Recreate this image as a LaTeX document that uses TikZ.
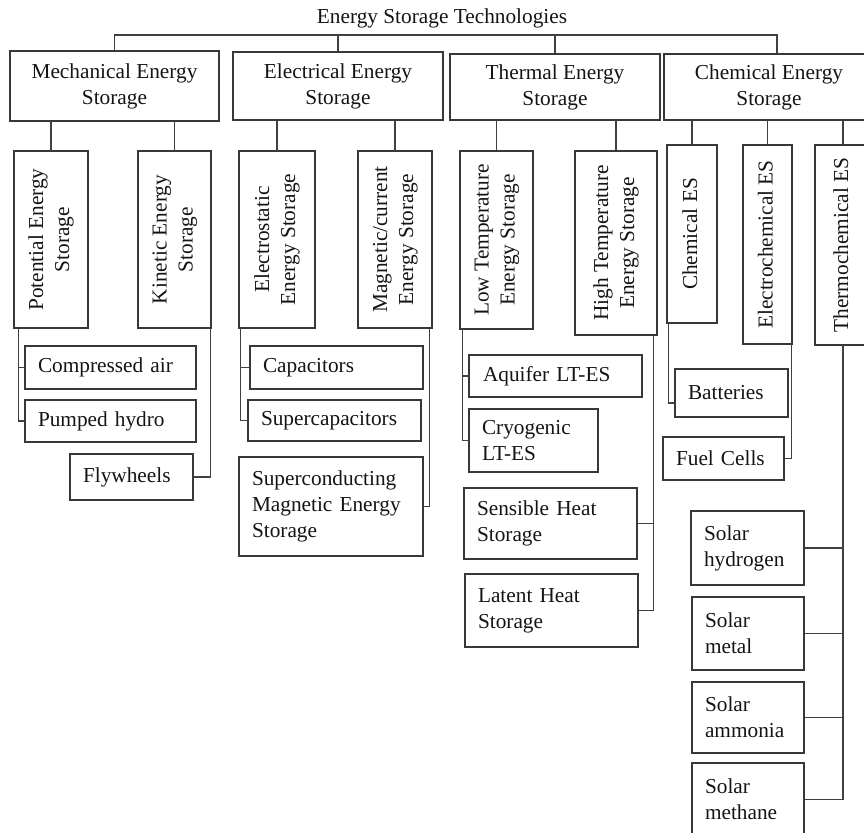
\documentclass[tikz,border=0pt]{standalone}
\usepackage{fontspec}
\setmainfont{Liberation Serif}
\usepackage{graphicx}
\usetikzlibrary{positioning,calc}
\newcommand{\fel}[1]{\rotatebox{90}{\begin{tabular}{@{}c@{}}#1\end{tabular}}}
\tikzset{
  vonal/.style={draw=black!78,line width=1.3pt},
  conn/.style={black!75,line width=1.4pt},
  grp/.style 2 args={vonal,align=center,inner sep=0pt,minimum width=#1,minimum height=#2},
  sub/.style 2 args={vonal,inner sep=0pt,minimum width=#1,minimum height=#2},
  leaf/.style 2 args={vonal,align=left,inner xsep=13pt,inner ysep=0pt,text width=#1,minimum height=#2},
}

\begin{document}
\begin{tikzpicture}[x=1pt,y=-1pt,font=\fontsize{21.3}{26}\selectfont,text=black!92]
  \useasboundingbox (0,0) rectangle (864,832);
  \node (root) at (442,18) {Energy Storage Technologies};
  \node[grp={209pt}{70pt}] (mech) at (114.5,86) {Mechanical Energy\\Storage};
  \node[grp={210pt}{68pt}] (elec) at (338,86) {Electrical Energy\\Storage};
  \node[grp={210pt}{66pt}] (therm) at (555,87) {Thermal Energy\\Storage};
  \node[grp={210pt}{66pt}] (chem) at (769,87) {Chemical Energy\\Storage};
  \coordinate (bus) at (442,35);
  \coordinate (chtop) at ([xshift=8pt]chem.north);
  \draw[conn] (mech.north) |- (bus) -| (chtop);
  \draw[conn] (elec.north) -- (elec.north |- bus);
  \draw[conn] (therm.north) -- (therm.north |- bus);

  \node[sub={74pt}{177pt}] (pot) at (51,239.5) {\fel{Potential Energy\\Storage}};
  \node[sub={73pt}{177pt}] (kin) at (174.5,239.5) {\fel{Kinetic Energy\\Storage}};
  \node[sub={76pt}{177pt}] (estat) at (277,239.5) {\fel{Electrostatic\\Energy Storage}};
  \node[sub={74pt}{177pt}] (magn) at (395,239.5) {\fel{Magnetic/current\\Energy Storage}};
  \node[sub={73pt}{178pt}] (lowt) at (496.5,240) {\fel{Low Temperature\\Energy Storage}};
  \node[sub={82pt}{184pt}] (hight) at (616,243) {\fel{High Temperature\\Energy Storage}};
  \node[sub={50pt}{178pt}] (ches) at (692,234) {\fel{Chemical ES}};
  \node[sub={49pt}{199pt}] (eches) at (767.5,244.5) {\fel{Electrochemical ES}};
  \node[sub={56pt}{200pt}] (tches) at (843,245) {\fel{Thermochemical ES}};
  \foreach \k/\p in {pot/mech,kin/mech,estat/elec,magn/elec,lowt/therm,hight/therm,ches/chem,eches/chem,tches/chem}
    \draw[conn] (\k.north) -- (\k.north |- \p.south);

  \node[leaf={145pt}{43pt}] (ca) at (110.5,367.5) {Compressed air};
  \node[leaf={145pt}{42pt}] (ph) at (110.5,421) {Pumped hydro};
  \node[leaf={97pt}{46pt}] (fw) at (131.5,477) {Flywheels};
  \node[leaf={147pt}{43pt}] (cap) at (336.5,367.5) {Capacitors};
  \node[leaf={147pt}{41pt}] (scap) at (334.5,420.5) {Supercapacitors};
  \node[leaf={158pt}{99pt}] (smes) at (331,506.5) {Superconducting\\Magnetic Energy\\Storage};
  \node[leaf={145pt}{42pt},inner xsep=14pt] (aq) at (555.5,376) {Aquifer LT-ES};
  \node[leaf={103pt}{63pt}] (cryo) at (533.5,440.5) {Cryogenic\\LT-ES};
  \node[leaf={147pt}{71pt}] (sens) at (550.5,523.5) {Sensible Heat\\Storage};
  \node[leaf={147pt}{73pt}] (lat) at (551.5,610.5) {Latent Heat\\Storage};
  \node[leaf={87pt}{48pt}] (bat) at (731.5,393) {Batteries};
  \node[leaf={95pt}{43pt}] (fc) at (723.5,458.5) {Fuel Cells};
  \node[leaf={87pt}{74pt}] (sh) at (747.5,548) {Solar\\hydrogen};
  \node[leaf={86pt}{73pt}] (sm) at (748,633.5) {Solar\\metal};
  \node[leaf={86pt}{71pt}] (sa) at (748,717.5) {Solar\\ammonia};
  \node[leaf={86pt}{73pt}] (smt) at (748,799.5) {Solar\\methane};

  \draw[conn] ([xshift=5pt]pot.south west) |- (ca.west);
  \draw[conn] ([xshift=5pt]pot.south west) |- (ph.west);
  \draw[conn] ([xshift=-1pt]kin.south east) |- (fw.east);
  \draw[conn] ([xshift=2pt]estat.south west) |- (cap.west);
  \draw[conn] ([xshift=2pt]estat.south west) |- (scap.west);
  \draw[conn] ([xshift=-3pt]magn.south east) |- (smes.east);
  \draw[conn] ([xshift=3pt]lowt.south west) |- (aq.west);
  \draw[conn] ([xshift=3pt]lowt.south west) |- (cryo.west);
  \draw[conn] ([xshift=-4pt]hight.south east) |- (sens.east);
  \draw[conn] ([xshift=-4pt]hight.south east) |- (lat.east);
  \draw[conn] ([xshift=2pt]ches.south west) |- ([yshift=-10pt]bat.west);
  \draw[conn] ([xshift=-1pt]eches.south east) |- (fc.east);
  \foreach \s in {sh,sm,sa,smt}
    \draw[conn] (tches.south) |- (\s.east);
\end{tikzpicture}
\end{document}
